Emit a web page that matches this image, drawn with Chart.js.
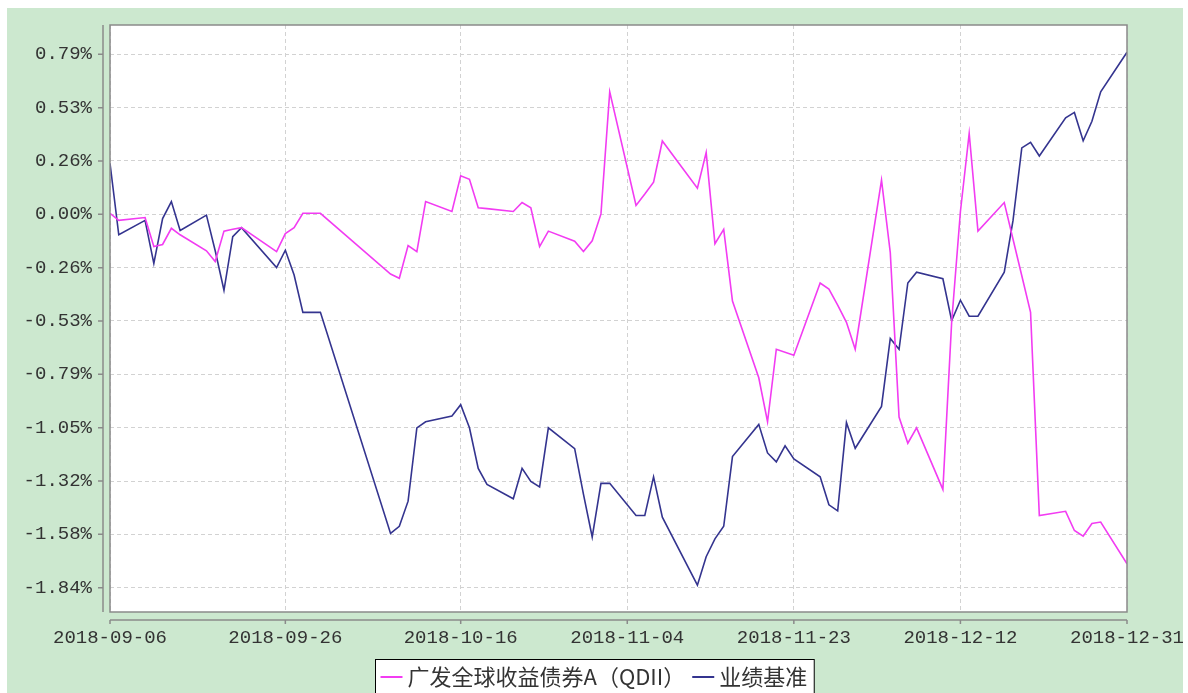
<!DOCTYPE html>
<html>
<head>
<meta charset="utf-8">
<script src="https://cdn.jsdelivr.net/npm/chart.js@4.4.1/dist/chart.umd.min.js"></script>
<style>
  html, body { margin: 0; padding: 0; background: #fff; }
  canvas { display: block; }
</style>
</head>
<body>
<canvas id="navChart" width="1188" height="693"></canvas>
<script>
// trading dates (x) and cumulative returns in % (y)
const DATES = [
  "2018-09-06", "2018-09-07", "2018-09-10", "2018-09-11", "2018-09-12", "2018-09-13", "2018-09-14",
  "2018-09-17", "2018-09-18", "2018-09-19", "2018-09-20", "2018-09-21", "2018-09-25", "2018-09-26",
  "2018-09-27", "2018-09-28", "2018-09-30", "2018-10-08", "2018-10-09", "2018-10-10", "2018-10-11",
  "2018-10-12", "2018-10-15", "2018-10-16", "2018-10-17", "2018-10-18", "2018-10-19", "2018-10-22",
  "2018-10-23", "2018-10-24", "2018-10-25", "2018-10-26", "2018-10-29", "2018-10-30", "2018-10-31",
  "2018-11-01", "2018-11-02", "2018-11-05", "2018-11-06", "2018-11-07", "2018-11-08", "2018-11-12",
  "2018-11-13", "2018-11-14", "2018-11-15", "2018-11-16", "2018-11-19", "2018-11-20", "2018-11-21",
  "2018-11-22", "2018-11-23", "2018-11-26", "2018-11-27", "2018-11-28", "2018-11-29", "2018-11-30",
  "2018-12-03", "2018-12-04", "2018-12-05", "2018-12-06", "2018-12-07", "2018-12-10", "2018-12-11",
  "2018-12-12", "2018-12-13", "2018-12-14", "2018-12-17", "2018-12-18", "2018-12-19", "2018-12-20",
  "2018-12-21", "2018-12-24", "2018-12-25", "2018-12-26", "2018-12-27", "2018-12-28", "2018-12-31",
];

const FUND = [
  0.005, -0.030, -0.016, -0.159, -0.149, -0.069, -0.101,
  -0.180, -0.233, -0.083, -0.074, -0.066, -0.184, -0.095,
  -0.066, 0.005, 0.005, -0.295, -0.316, -0.154, -0.184,
  0.063, 0.014, 0.190, 0.173, 0.032, 0.028, 0.014,
  0.058, 0.032, -0.159, -0.083, -0.133, -0.184, -0.131,
  0.002, 0.605, 0.044, 0.100, 0.159, 0.362, 0.129,
  0.305, -0.145, -0.074, -0.428, -0.807, -1.024, -0.666,
  null, -0.696, -0.339, -0.369, -0.448, -0.533, -0.666,
  0.169, -0.189, -1.001, -1.130, -1.054, -1.358, -0.533,
  0.014, 0.399, -0.083, 0.058, -0.123, -0.303, -0.484,
  -1.487, -1.466, -1.561, -1.589, -1.526, -1.519, -1.725,
];

const BENCH = [
  0.252, -0.101, -0.030, -0.242, -0.021, 0.063, -0.080,
  -0.004, -0.180, -0.375, -0.110, -0.066, -0.263, -0.177,
  -0.300, -0.484, -0.484, -1.575, -1.540, -1.416, -1.054,
  -1.024, -0.996, -0.940, -1.054, -1.254, -1.333, -1.404,
  -1.254, -1.319, -1.346, -1.054, -1.157, -1.381, -1.593,
  -1.328, -1.328, -1.487, -1.487, -1.296, -1.495, -1.831,
  -1.690, -1.602, -1.540, -1.196, -1.037, -1.178, -1.222,
  -1.143, -1.208, -1.296, -1.434, -1.464, -1.028, -1.155,
  -0.948, -0.613, -0.666, -0.339, -0.286, -0.318, -0.525,
  -0.424, -0.503, -0.503, -0.286, -0.030, 0.328, 0.355,
  0.288, 0.476, 0.503, 0.363, 0.459, 0.605, 0.800,
];

const SERIES_NAMES = ["广发全球收益债券A（QDII）", "业绩基准"];
const SERIES_COLORS = ["#f23cf2", "#34348f"];

const X_TICK_LABELS = ["2018-09-06", "2018-09-26", "2018-10-16", "2018-11-04", "2018-11-23", "2018-12-12", "2018-12-31"];
const Y_TICKS = [0.7899, 0.5266, 0.2633, 0, -0.2633, -0.5266, -0.7899, -1.0532, -1.3165, -1.5798, -1.8431];
const Y_TICK_LABELS = ["0.79%", "0.53%", "0.26%", "0.00%", "-0.26%", "-0.53%", "-0.79%", "-1.05%", "-1.32%", "-1.58%", "-1.84%"];

// days since first date, so the x axis is a real time line
function dayOf(d) {
  return Math.round((Date.parse(d) - Date.parse(DATES[0])) / 86400000);
}

const TICK_FONT = { family: "'Liberation Mono', 'DejaVu Sans Mono', monospace", size: 19 };
const GRID_COLOR = "#d2d2d2";
const AXIS_COLOR = "#8a8a8a";

// background, offset axes and boxed legend
const frame = {
  id: "frame",
  beforeDraw(chart) {
    const { ctx, chartArea: a } = chart;
    ctx.save();
    ctx.fillStyle = "#ffffff";
    ctx.fillRect(0, 0, chart.width, chart.height);
    ctx.fillStyle = "#cce8cf";
    ctx.fillRect(7, 8, 1176, 685);
    ctx.fillStyle = "#ffffff";
    ctx.fillRect(a.left, a.top, a.right - a.left, a.bottom - a.top);
    ctx.restore();
  },
  afterDraw(chart) {
    const { ctx, chartArea: a, scales } = chart;
    ctx.save();
    ctx.strokeStyle = AXIS_COLOR;
    ctx.lineWidth = 1.5;
    ctx.strokeRect(a.left, a.top, a.right - a.left, a.bottom - a.top);

    // y axis, 7px left of the plot
    const ax = a.left - 7;
    ctx.beginPath();
    ctx.moveTo(ax, a.top);
    ctx.lineTo(ax, a.bottom);
    scales.y.ticks.forEach(t => {
      const py = scales.y.getPixelForValue(t.value);
      ctx.moveTo(ax - 5, py);
      ctx.lineTo(ax, py);
    });
    // x axis, 8px below the plot
    const ay = a.bottom + 8;
    ctx.moveTo(a.left, ay);
    ctx.lineTo(a.right, ay);
    scales.x.ticks.forEach(t => {
      const px = scales.x.getPixelForValue(t.value);
      ctx.moveTo(px, ay);
      ctx.lineTo(px, ay + 4);
    });
    ctx.stroke();

    // legend
    ctx.font = "22px 'Noto Sans CJK SC'";
    ctx.textBaseline = "middle";
    const w1 = ctx.measureText(SERIES_NAMES[0]).width;
    const w2 = ctx.measureText(SERIES_NAMES[1]).width;
    const total = 5 + 22 + 5 + w1 + 7 + 22 + 5 + w2 + 7;
    const bx = Math.round(chart.width / 2 - total / 2) + 0.5;
    const by = 659.5;
    ctx.fillStyle = "#ffffff";
    ctx.fillRect(bx, by, total, 50);
    ctx.strokeStyle = "#000000";
    ctx.lineWidth = 1;
    ctx.strokeRect(bx, by, total, 50);
    const ly = 677;
    let x = bx + 5;
    [w1, w2].forEach((w, i) => {
      ctx.strokeStyle = SERIES_COLORS[i];
      ctx.lineWidth = 2;
      ctx.beginPath();
      ctx.moveTo(x, ly);
      ctx.lineTo(x + 22, ly);
      ctx.stroke();
      ctx.fillStyle = "#333333";
      ctx.fillText(SERIES_NAMES[i], x + 27, ly);
      x += 22 + 5 + w + 7;
    });
    ctx.restore();
  },
};

const ctx = document.getElementById("navChart").getContext("2d");

new Chart(ctx, {
  type: "line",
  data: {
    datasets: [FUND, BENCH].map((vals, i) => ({
      label: SERIES_NAMES[i],
      data: DATES.map((d, j) => ({ x: dayOf(d), y: vals[j] })),
      borderColor: SERIES_COLORS[i],
      backgroundColor: SERIES_COLORS[i],
      borderWidth: 1.6,
      pointRadius: 0,
      tension: 0,
      spanGaps: true,
    })),
  },
  options: {
    responsive: false,
    animation: false,
    layout: { padding: { left: 0, right: 61, top: 25, bottom: 0 } },
    plugins: {
      legend: { display: false },
      tooltip: { enabled: false },
    },
    scales: {
      x: {
        type: "linear",
        min: 0,
        max: dayOf("2018-12-31"),
        afterBuildTicks: axis => {
          axis.ticks = X_TICK_LABELS.map(l => ({ value: dayOf(l) }));
        },
        afterFit: scale => {
          scale.height = 81;
          scale.paddingLeft = 0;
          scale.paddingRight = 0;
        },
        ticks: {
          autoSkip: false,
          maxRotation: 0,
          padding: 15,
          color: "#333333",
          font: TICK_FONT,
          callback: v => X_TICK_LABELS.find(l => dayOf(l) === v),
        },
        grid: { color: GRID_COLOR, drawTicks: false },
        border: { display: false, dash: [4, 3] },
      },
      y: {
        min: -1.9631,
        max: 0.9345,
        afterBuildTicks: axis => {
          axis.ticks = Y_TICKS.map(v => ({ value: v }));
        },
        afterFit: scale => {
          scale.width = 110;
          scale.paddingTop = 0;
          scale.paddingBottom = 0;
        },
        ticks: {
          padding: 18,
          color: "#333333",
          font: TICK_FONT,
          callback: (v, i) => Y_TICK_LABELS[i],
        },
        grid: { color: GRID_COLOR, drawTicks: false },
        border: { display: false, dash: [4, 3] },
      },
    },
  },
  plugins: [frame],
});
</script>
</body>
</html>
